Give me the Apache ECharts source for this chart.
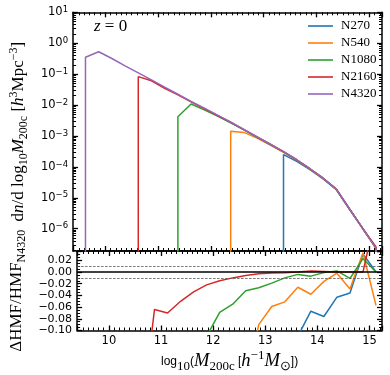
<!DOCTYPE html>
<html>
<head>
<meta charset="utf-8">
<script src="https://cdn.jsdelivr.net/npm/echarts@6/dist/echarts.min.js"></script>
<style>
html, body { margin: 0; padding: 0; background: #fff; }
#main { width: 390px; height: 375px; }
</style>
</head>
<body>
<div id="main"></div>
<script>
// bin centres, log10(M200c)
const binCenters = [9.625, 9.875, 10.125, 10.375, 10.625, 10.875, 11.125, 11.375, 11.625, 11.875,
  12.125, 12.375, 12.625, 12.875, 13.125, 13.375, 13.625, 13.875, 14.125, 14.375, 14.625, 14.875, 15.125];

// dn/dlog10M per run (null = empty bin)
const hmfN270 = [null, null, null, null, null, null, null, null, null, null, null, null, null, null, null,
  2.5e-4, 1.51e-4, 8.1e-5, 4.1e-5, 1.82e-5, 4.25e-6, 1.03e-6, 2.4e-7];
const hmfN540 = [null, null, null, null, null, null, null, null, null, null, null,
  1.41e-3, 1.30e-3, 8.5e-4, 5.1e-4, 2.95e-4, 1.66e-4, 8.4e-5, 4.2e-5, 1.9e-5, 4.3e-6, 1.03e-6, 2.26e-7];
const hmfN1080 = [null, null, null, null, null, null, null,
  4.2e-3, 1.08e-2, 7.0e-3, 4.4e-3, 2.64e-3, 1.57e-3, 9.1e-4, 5.3e-4, 3.07e-4, 1.69e-4, 8.6e-5, 4.3e-5, 1.9e-5, 4.35e-6, 1.02e-6, 2.4e-7];
const hmfN2160 = [null, null, null, null,
  8.3e-2, 6.1e-2, 3.5e-2, 2.13e-2, 1.27e-2, 7.7e-3, 4.6e-3, 2.77e-3, 1.61e-3, 9.3e-4, 5.4e-4, 3.1e-4, 1.70e-4, 8.7e-5, 4.3e-5, 1.9e-5, 4.4e-6, 1.0e-6, 2.6e-7];
const hmfN4320 = [3.5e-1, 5.3e-1, 3.2e-1, 1.86e-1, 1.10e-1, 6.5e-2, 3.8e-2, 2.24e-2, 1.32e-2, 7.9e-3,
  4.7e-3, 2.8e-3, 1.62e-3, 9.3e-4, 5.4e-4, 3.1e-4, 1.70e-4, 8.7e-5, 4.3e-5, 1.9e-5, 4.4e-6, 1.0e-6, 2.4e-7];

// (HMF - HMF_N4320) / HMF_N4320
const resN270 = [null, null, null, null, null, null, null, null, null, null, null, null, null, null, null,
  -0.25, -0.11, -0.067, -0.076, -0.043, -0.036, 0.031, 0.0];
const resN540 = [null, null, null, null, null, null, null, null, null, null, null,
  -0.5, -0.2, -0.09, -0.059, -0.051, -0.026, -0.038, -0.016, -0.002, -0.029, 0.033, -0.057];
const resN1080 = [null, null, null, null, null, null, null,
  -0.81, -0.18, -0.11, -0.069, -0.055, -0.032, -0.027, -0.019, -0.010, -0.004, -0.007, -0.001, 0.002, -0.011, 0.023, 0.0];
const resN2160 = [null, null, null, null,
  -0.25, -0.064, -0.070, -0.050, -0.034, -0.022, -0.015, -0.010, -0.006, -0.003, -0.0015, -0.001, 0.0, 0.002, 0.001, 0.0, 0.0, 0.0, 0.10];

const runNames = ['N270', 'N540', 'N1080', 'N2160', 'N4320'];
const runColors = ['#1f77b4', '#ff7f0e', '#2ca02c', '#d62728', '#9467bd'];
const hmfRuns = [hmfN270, hmfN540, hmfN1080, hmfN2160, hmfN4320];
const resRuns = [resN270, resN540, resN1080, resN2160];

const X_MIN = 9.39, X_MAX = 15.24;
const Y_MIN = 1.9e-7, Y_MAX = 10;
const R_MIN = -0.1, R_MAX = 0.036;
const FLOOR = 1e-12;   // empty bins clipped like matplotlib does

const serif = 'Liberation Serif';
const sans = 'DejaVu Sans';

// first / last filled bin drop straight to the floor
function hmfLine(vals) {
  const pts = [];
  vals.forEach((v, i) => {
    if (v == null) return;
    if (!pts.length) pts.push([binCenters[i], FLOOR]);
    pts.push([binCenters[i], v]);
  });
  pts.push([pts[pts.length - 1][0], FLOOR]);
  return pts;
}

function resLine(vals) {
  const pts = [];
  vals.forEach((v, i) => { if (v != null) pts.push([binCenters[i], v]); });
  return pts;
}

// log minor ticks 2..9 x 10^n, in log10 space
const logMinor = [];
for (let n = -7; n <= 0; n++) {
  for (let k = 2; k <= 9; k++) {
    const l = Math.log10(k) + n;
    if (l > Math.log10(Y_MIN) && l < Math.log10(Y_MAX)) logMinor.push(l);
  }
}

const mathRich = (size, sub) => ({
  r: { fontFamily: serif, fontSize: size, lineHeight: size + 5, color: '#000' },
  i: { fontFamily: serif, fontSize: size, fontStyle: 'italic', lineHeight: size + 5, color: '#000' },
  sb: { fontFamily: serif, fontSize: sub, lineHeight: sub, verticalAlign: 'bottom', color: '#000' },
  sp: { fontFamily: serif, fontSize: sub, lineHeight: sub, verticalAlign: 'top', color: '#000' }
});

const axLine = { show: true, onZero: false, lineStyle: { color: '#000', width: 1.5 } };
const majTick = { show: true, inside: true, length: 5, lineStyle: { color: '#000', width: 1.3 } };
const minTick = { show: true, splitNumber: 10, length: 3, lineStyle: { color: '#000', width: 1 } };
const minTickLog = { show: true, inside: true, length: 3, customValues: logMinor, lineStyle: { color: '#000', width: 1 } };

function xAx(grid, pos, labels) {
  const ax = {
    type: 'value', gridIndex: grid, position: pos, min: X_MIN, max: X_MAX,
    axisLine: axLine, axisTick: majTick, minorTick: minTick,
    splitLine: { show: false },
    axisLabel: { show: false }
  };
  if (labels) {
    ax.axisLabel = { show: true, showMinLabel: false, showMaxLabel: false, margin: 5,
      fontFamily: sans, fontSize: 11.5, color: '#000' };
    ax.name = 'log{sb|10}({i|M}{sb|200c} [{i|h}{sp|−1}{i|M}{sb|⊙}])';
    ax.nameLocation = 'middle';
    ax.nameGap = 19;
    ax.nameTextStyle = { rich: mathRich(18.5, 13) };
  }
  return ax;
}

const logLabel = v => {
  const e = Math.round(Math.log10(v));
  return '10{sup|' + (e < 0 ? '−' + (-e) : e) + '}';
};
const resLabel = v => {
  if (Math.abs(v) < 1e-9) return '0.00';
  const s = Math.abs(v).toFixed(2);
  return v < 0 ? '−' + s : s;
};

const series = [];
hmfRuns.forEach((vals, k) => {
  series.push({
    name: runNames[k], type: 'line', xAxisIndex: 0, yAxisIndex: 0,
    data: hmfLine(vals), showSymbol: false, clip: true,
    lineStyle: { color: runColors[k], width: 1.5 }, itemStyle: { color: runColors[k] }
  });
});
// reference lines of the ratio panel
series.push({
  name: 'ref', type: 'line', xAxisIndex: 2, yAxisIndex: 4,
  data: [[X_MIN, 0]], showSymbol: false, lineStyle: { opacity: 0 },
  markLine: {
    symbol: 'none', silent: true, label: { show: false }, animation: false,
    data: [
      { yAxis: 0, lineStyle: { color: '#000', width: 1.6, type: 'solid' } },
      { yAxis: 0.01, lineStyle: { color: '#555', width: 0.8, type: [2.5, 1.5] } },
      { yAxis: -0.01, lineStyle: { color: '#555', width: 0.8, type: [2.5, 1.5] } }
    ]
  }
});
resRuns.forEach((vals, k) => {
  series.push({
    name: 'res' + runNames[k], type: 'line', xAxisIndex: 2, yAxisIndex: 4,
    data: resLine(vals), showSymbol: false, clip: true,
    lineStyle: { color: runColors[k], width: 1.5 }, itemStyle: { color: runColors[k] }
  });
});

const option = {
  animation: false,
  backgroundColor: '#fff',
  grid: [
    { left: 62.5, right: 8, top: 12.3, height: 238.7 },
    { left: 62.5, right: 8, top: 251, height: 79.5 }
  ],
  xAxis: [xAx(0, 'bottom', false), xAx(0, 'top', false), xAx(1, 'bottom', true), xAx(1, 'top', false)],
  yAxis: [
    {
      type: 'log', logBase: 10, gridIndex: 0, position: 'left', min: Y_MIN, max: Y_MAX,
      axisLine: axLine, axisTick: majTick, splitLine: { show: false },
      axisLabel: {
        formatter: logLabel, showMinLabel: false, showMaxLabel: true, margin: 5,
        fontFamily: sans, fontSize: 11.5, lineHeight: 14, color: '#000',
        rich: { sup: { fontFamily: sans, fontSize: 8.5, lineHeight: 8, verticalAlign: 'top', color: '#000' } }
      },
      name: '{r|d}{i|n}{r|/d log}{sb|10}{i|M}{sb|200c}{r| [}{i|h}{sp|3}{r|Mpc}{sp|−3}{r|]}',
      nameLocation: 'middle', nameGap: 33, nameRotate: 90,
      nameTextStyle: { rich: mathRich(17, 12) }
    },
    {
      type: 'value', gridIndex: 0, position: 'left', min: Math.log10(Y_MIN), max: Math.log10(Y_MAX),
      axisLine: { show: false }, splitLine: { show: false }, axisLabel: { show: false },
      axisTick: minTickLog
    },
    {
      type: 'log', logBase: 10, gridIndex: 0, position: 'right', min: Y_MIN, max: Y_MAX,
      axisLine: axLine, axisTick: majTick, splitLine: { show: false }, axisLabel: { show: false }
    },
    {
      type: 'value', gridIndex: 0, position: 'right', min: Math.log10(Y_MIN), max: Math.log10(Y_MAX),
      axisLine: { show: false }, splitLine: { show: false }, axisLabel: { show: false },
      axisTick: minTickLog
    },
    {
      type: 'value', gridIndex: 1, position: 'left', min: R_MIN, max: R_MAX, interval: 0.02,
      axisLine: axLine, axisTick: majTick, splitLine: { show: false },
      minorTick: { show: true, splitNumber: 4, length: 3, lineStyle: { color: '#000', width: 1 } },
      axisLabel: { formatter: resLabel, showMaxLabel: false, showMinLabel: true, margin: 5,
        fontFamily: sans, fontSize: 11, color: '#000' },
      name: '{r|ΔHMF/HMF}{sb|N4320}',
      nameLocation: 'middle', nameGap: 40, nameRotate: 90,
      nameTextStyle: { rich: mathRich(17, 12) }
    },
    {
      type: 'value', gridIndex: 1, position: 'right', min: R_MIN, max: R_MAX, interval: 0.02,
      axisLine: axLine, axisTick: majTick, splitLine: { show: false },
      minorTick: { show: true, splitNumber: 4, length: 3, lineStyle: { color: '#000', width: 1 } },
      axisLabel: { show: false }
    }
  ],
  legend: {
    data: runNames, orient: 'vertical', left: 308, top: 19,
    icon: 'rect', itemWidth: 25, itemHeight: 1.6, itemGap: 3, padding: 0,
    textStyle: { fontFamily: serif, fontSize: 13, lineHeight: 14, color: '#000', padding: [0, 0, 0, 3] }
  },
  graphic: [{
    type: 'text', left: 94, top: 18,
    style: {
      text: '{i|z} = 0', fill: '#000',
      font: '17px "Liberation Serif"',
      rich: { i: { fontFamily: serif, fontSize: 17, fontStyle: 'italic' } }
    }
  }],
  series: series
};

const chart = echarts.init(document.getElementById('main'));
chart.setOption(option);
</script>
</body>
</html>
